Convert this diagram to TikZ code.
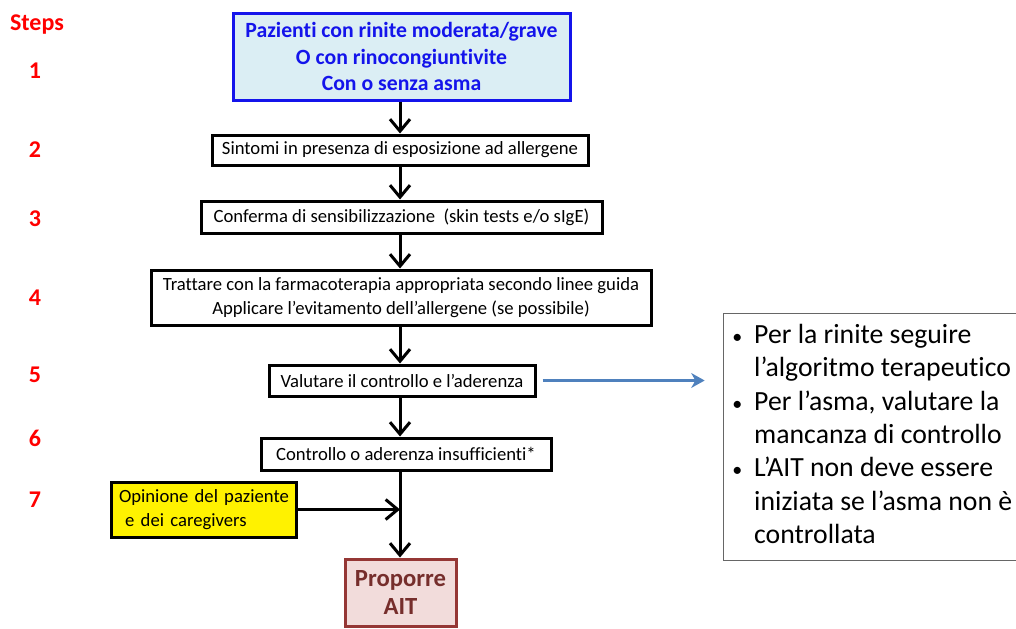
\documentclass[tikz,border=0pt]{standalone}
\usepackage{fontspec}
\setmainfont{Carlito}[Ligatures=NoCommon]
\usetikzlibrary{arrows.meta}
\definecolor{stepred}{RGB}{255,0,0}
\definecolor{topfill}{RGB}{219,238,244}
\definecolor{topblue}{RGB}{20,20,235}
\definecolor{aitfill}{RGB}{242,220,219}
\definecolor{aitline}{RGB}{149,55,53}
\definecolor{aittext}{RGB}{118,46,44}
\definecolor{linkblue}{RGB}{79,129,189}
\newcommand{\notabullet}{{\fontsize{15}{25}\selectfont•}}
\tikzset{
	stepnum/.style={text=stepred, font=\fontsize{18}{20}\selectfont\bfseries},
	stepbox/.style={draw=black, line width=2.25pt, fill=white, align=center, inner sep=0pt, font=\fontsize{14}{18}\selectfont},
	flow/.style={line width=2.25pt, -{Straight Barb[length=9pt,width=15pt,line width=2.25pt]}},
}

\begin{document}
\begin{tikzpicture}[x=0.75pt, y=-0.75pt]
			%%%%% START %%%%%
			\useasboundingbox (0,0) rectangle (1016,628);
			\clip (0,0) rectangle (1016,628);
			
			% step numbers
			\node[stepnum] (steps) at (37,25) {Steps};
			\node[stepnum] (n1) at (35,71) {1};
			\node[stepnum] (n2) at (35,150) {2};
			\node[stepnum] (n3) at (35,219) {3};
			\node[stepnum] (n4) at (35,298) {4};
			\node[stepnum] (n5) at (35,375) {5};
			\node[stepnum] (n6) at (35,438) {6};
			\node[stepnum] (n7) at (35,500) {7};
			
			% boxes
			\node[stepbox, draw=topblue, fill=topfill, text=topblue, minimum width=252.75pt, minimum height=65.25pt,
				font=\fontsize{16.3}{20}\selectfont\bfseries] (pazienti) at (401.5,56.5)
				{Pazienti con rinite moderata/grave\\O con rinocongiuntivite\\Con o senza asma};
			\node[stepbox, minimum width=282pt, minimum height=22.5pt] (sintomi) at (400,150)
				{Sintomi in presenza di esposizione ad allergene};
			\node[stepbox, minimum width=300.75pt, minimum height=24pt] (conferma) at (401.5,217)
				{Conferma di sensibilizzazione\ \ (skin tests e/o sIgE)};
			\node[stepbox, minimum width=375pt, minimum height=41.25pt] (trattare) at (401,297.5)
				{Trattare con la farmacoterapia appropriata secondo linee guida\\Applicare l’evitamento dell’allergene (se possibile)};
			\node[stepbox, minimum width=199.5pt, minimum height=23.25pt] (valutare) at (402,380.5)
				{Valutare il controllo e l’aderenza};
			\node[stepbox, minimum width=217.5pt, minimum height=24pt] (controllo) at (406,454)
				{Controllo o aderenza insufficienti*};
			\node[stepbox, fill=yellow, align=left, inner xsep=6pt, text width=126.75pt, minimum height=41.25pt] (opinione) at (203.5,509.5)
				{\mbox{Opinione del paziente}\\\mbox{\ e dei caregivers}};
			\node[stepbox, draw=aitline, fill=aitfill, text=aittext, minimum width=83.25pt, minimum height=50.25pt,
				font=\fontsize{18.5}{21}\selectfont\bfseries] (proporre) at (400.5,592.5) {Proporre\\AIT};
			
			% note on the right
			\node[draw=black!60, line width=0.75pt, minimum width=224pt, minimum height=185.25pt] (nota) at (872.5,436.5) {};
			\node[anchor=north west, inner sep=0pt, font=\fontsize{20.8}{25}\selectfont] (notatxt) at (732,320)
				{\begin{tabular}{@{}l@{\hspace{9pt}}l@{}}
				\notabullet & Per la rinite seguire\\
				  & l’algoritmo terapeutico\\
				\notabullet & Per l’asma, valutare la\\
				  & mancanza di controllo\\
				\notabullet & L’AIT non deve essere\\
				  & iniziata se l’asma non è\\
				  & controllata
				\end{tabular}};
			
			% connectors
			\coordinate (spine) at (400,0);
			\draw[flow] (pazienti.south -| spine) -- (sintomi.north -| spine);
			\draw[flow] (sintomi.south -| spine) -- (conferma.north -| spine);
			\draw[flow] (conferma.south -| spine) -- (trattare.north -| spine);
			\draw[flow] (trattare.south -| spine) -- (valutare.north -| spine);
			\draw[flow] (valutare.south -| spine) -- (controllo.north -| spine);
			\draw[flow] (controllo.south -| spine) -- (proporre.north -| spine);
			\draw[flow] (opinione.east) -- (opinione.east -| spine);
			\draw[line width=2pt, linkblue, -{Stealth[length=10pt,width=11pt,inset=3pt]}, shorten <=4.5pt, shorten >=13.5pt]
				(valutare.east) -- (valutare.east -| nota.west);
			%%%%% END %%%%%
		\end{tikzpicture}
\end{document}
